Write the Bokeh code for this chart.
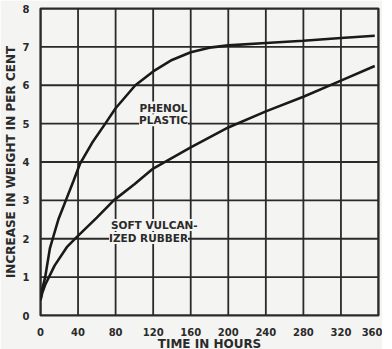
from bokeh.plotting import figure
from bokeh.models import Range1d, FixedTicker, Label
from bokeh.embed import file_html
from bokeh.resources import INLINE

# Data
phenol_x = [0, 2, 5, 10, 13, 19, 27, 35, 42, 55, 69, 80, 101, 120, 140, 160, 180, 200, 240, 280, 320, 356]
phenol_y = [0.4, 0.7, 1.0, 1.75, 2.0, 2.5, 3.0, 3.5, 3.95, 4.5, 5.0, 5.4, 6.0, 6.36, 6.66, 6.86, 6.98, 7.04, 7.1, 7.16, 7.23, 7.29]

rubber_x = [0, 2, 5, 9, 15, 28, 38, 60, 78, 100, 120, 160, 200, 240, 280, 320, 356]
rubber_y = [0.4, 0.6, 0.8, 1.0, 1.3, 1.78, 2.03, 2.55, 3.0, 3.42, 3.83, 4.38, 4.9, 5.32, 5.7, 6.12, 6.5]

x_ticks = [0, 40, 80, 120, 160, 200, 240, 280, 320, 360]
y_ticks = [0, 1, 2, 3, 4, 5, 6, 7, 8]
x_min, x_max = 0, 360
y_min, y_max = 0, 8

ink = "#2a2a2a"
bg = "#f4f4f2"
font = "DejaVu Sans"

p = figure(width=382, height=353, output_backend="svg", toolbar_location=None,
           x_range=Range1d(x_min, x_max), y_range=Range1d(y_min, y_max),
           min_border_left=36, min_border_top=8, min_border_right=4, min_border_bottom=26)
p.background_fill_color = bg
p.border_fill_color = bg
p.outline_line_color = ink
p.outline_line_width = 2.2

for ax in (p.xaxis, p.yaxis):
    ax.axis_line_color = None
    ax.major_tick_line_color = None
    ax.minor_tick_line_color = None
    ax.major_label_text_font = font
    ax.major_label_text_font_style = "bold"
    ax.major_label_text_font_size = "10px"
    ax.major_label_text_color = ink
    ax.axis_label_text_font = font
    ax.axis_label_text_font_style = "bold"
    ax.axis_label_text_font_size = "12px"
    ax.axis_label_text_color = ink

p.xaxis.ticker = FixedTicker(ticks=x_ticks)
p.yaxis.ticker = FixedTicker(ticks=y_ticks)
p.xaxis.major_label_standoff = 6
p.yaxis.major_label_standoff = 5
p.xaxis.axis_label = "TIME IN HOURS"
p.yaxis.axis_label = "INCREASE IN WEIGHT IN PER CENT"
p.xaxis.axis_label_standoff = -2
p.yaxis.axis_label_standoff = 2

p.xgrid.grid_line_color = None
p.ygrid.grid_line_color = None

# grid lines drawn as line glyphs at the tick values
for t in x_ticks:
    p.line(x=[t, t], y=[y_min, y_max], line_color=ink, line_width=1.8)
for t in y_ticks:
    p.line(x=[x_min, x_max], y=[t, t], line_color=ink, line_width=1.8)

p.line(phenol_x, phenol_y, line_color="#1a1a1a", line_width=2.6)
p.line(rubber_x, rubber_y, line_color="#1a1a1a", line_width=2.6)

lbl_kw = dict(text_font=font, text_font_style="bold", text_font_size="10.5px",
              text_color=ink, background_fill_color=bg, background_fill_alpha=1.0)
p.add_layout(Label(x=131, y=5.42, text="PHENOL", text_align="center", text_baseline="middle", **lbl_kw))
p.add_layout(Label(x=131, y=5.09, text="PLASTIC", text_align="center", text_baseline="middle", **lbl_kw))
p.add_layout(Label(x=75, y=2.36, text="SOFT VULCAN-", text_align="left", text_baseline="middle", **lbl_kw))
p.add_layout(Label(x=73, y=2.02, text="IZED RUBBER", text_align="left", text_baseline="middle", **lbl_kw))

open("out.html", "w").write(file_html(p, INLINE))
